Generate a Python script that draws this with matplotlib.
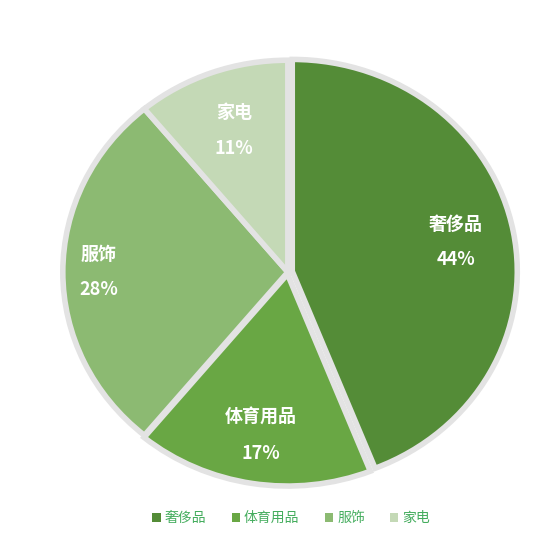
import matplotlib
matplotlib.use('Agg')
import matplotlib.pyplot as plt
import numpy as np

plt.rcParams['font.family'] = ['Noto Sans CJK SC', 'DejaVu Sans']

# 数据
categories = ['奢侈品', '体育用品', '服饰', '家电']
shares = [44, 17, 28, 11]
colors = ['#548c37', '#69a744', '#8cba72', '#c4d9b6']
label_r = [0.74, 0.77, 0.84, 0.71]

fig = plt.figure(figsize=(5.6, 5.42), dpi=100)
ax = fig.add_axes([0.072, 0.068, 0.884, 0.86])

wedges, _ = ax.pie(shares, colors=colors, startangle=90, counterclock=False,
                   explode=[0.02, 0.01, 0, 0],
                   wedgeprops=dict(edgecolor='#e3e3e3', linewidth=4))
ax.set_aspect('auto')
ax.set_xlim(-1.1, 1.1)
ax.set_ylim(-1.1, 1.1)

for w, name, val, r in zip(wedges, categories, shares, label_r):
    ang = np.deg2rad((w.theta1 + w.theta2) / 2)
    cx, cy = w.center
    x = cx + r * np.cos(ang)
    y = cy + r * np.sin(ang)
    ax.text(x, y, f'{name}\n{val}%', ha='center', va='center', color='white',
            fontsize=13, fontweight='bold', linespacing=2.1)

leg = fig.legend(wedges, categories, loc='center', bbox_to_anchor=(0.52, 0.044),
                 ncol=4, frameon=False, fontsize=10, handlelength=0.6,
                 handleheight=0.6, handletextpad=0.3, columnspacing=1.8)
for t in leg.get_texts():
    t.set_color('#45ad5e')
for h in leg.legend_handles:
    h.set_edgecolor('none')

fig.savefig('out.png', dpi=100, facecolor='white')
